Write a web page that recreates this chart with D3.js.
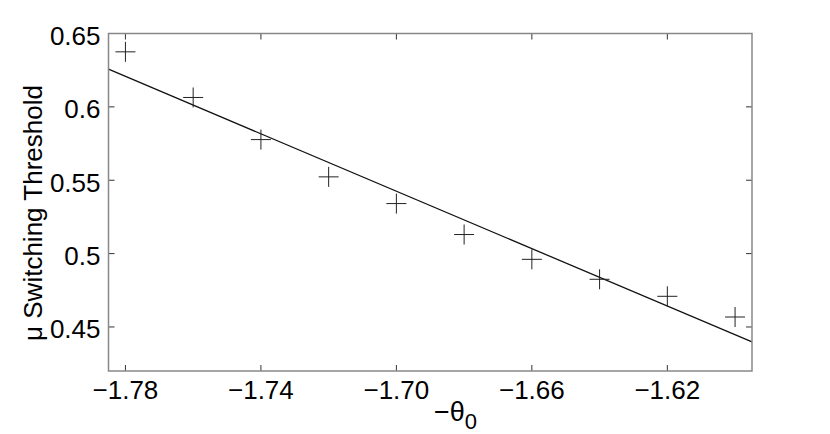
<!DOCTYPE html>
<html>
<head>
<meta charset="utf-8">
<script src="https://cdn.jsdelivr.net/npm/d3@7"></script>
<style>
  body { margin: 0; background: #fff; }
  text { font-family: 'Liberation Sans', Arial, sans-serif; fill: #000; }
</style>
</head>
<body>
<div id="chart"></div>
<script>
let width = 830,
  height = 434

// measured points
let thetaVals = [-1.78, -1.76, -1.74, -1.72, -1.70, -1.68, -1.66, -1.64, -1.62, -1.60]
let muVals = [0.6375, 0.6064, 0.5777, 0.5523, 0.5341, 0.5130, 0.4961, 0.4825, 0.4709, 0.4568]

// linear fit, drawn across the axis range
let fitX = [-1.785, -1.595]
let fitY = [0.6257, 0.4398]

let xTicks = [-1.78, -1.74, -1.70, -1.66, -1.62]
let yTicks = [0.45, 0.5, 0.55, 0.6, 0.65]

let margin = { left: 108.5, right: 78, top: 33.5, bottom: 63 }

let svg = d3.select('#chart').append('svg')
  .attr('width', width)
  .attr('height', height)

let x = d3.scaleLinear()
  .domain([-1.785, -1.595])
  .range([margin.left, width - margin.right])

let y = d3.scaleLinear()
  .domain([0.42, 0.65])
  .range([height - margin.bottom, margin.top])

let x0 = x.range()[0], x1 = x.range()[1]
let y0 = y.range()[0], y1 = y.range()[1]

let fmtX = d => d3.format('.2f')(d).replace('-', '\u2212')
let fmtY = d => String(d)

// inward ticks on all four sides
let tickLen = 6
let ticks = svg.append('g').attr('stroke', '#333').attr('stroke-width', 1)
xTicks.forEach(function (t) {
  ticks.append('line').attr('x1', x(t)).attr('x2', x(t)).attr('y1', y0).attr('y2', y0 - tickLen)
  ticks.append('line').attr('x1', x(t)).attr('x2', x(t)).attr('y1', y1).attr('y2', y1 + tickLen)
})
yTicks.forEach(function (t) {
  ticks.append('line').attr('x1', x0).attr('x2', x0 + tickLen).attr('y1', y(t)).attr('y2', y(t))
  ticks.append('line').attr('x1', x1).attr('x2', x1 - tickLen).attr('y1', y(t)).attr('y2', y(t))
})

svg.append('g').selectAll('text')
  .data(xTicks)
  .enter().append('text')
  .attr('x', d => x(d))
  .attr('y', y0 + 28)
  .attr('text-anchor', 'middle')
  .style('font-size', '26px')
  .text(fmtX)

svg.append('g').selectAll('text')
  .data(yTicks)
  .enter().append('text')
  .attr('x', x0 - 8)
  .attr('y', d => y(d) + 11.5)
  .attr('text-anchor', 'end')
  .style('font-size', '26px')
  .text(fmtY)

// fit line
let line = d3.line()
  .x(d => x(d[0]))
  .y(d => y(d[1]))

svg.append('path')
  .datum(d3.zip(fitX, fitY))
  .attr('d', line)
  .attr('fill', 'none')
  .attr('stroke', '#111')
  .attr('stroke-width', 1.3)

// plus markers
let half = 10
let marks = svg.append('g').attr('stroke', '#222').attr('stroke-width', 1)
d3.zip(thetaVals, muVals).forEach(function (d) {
  let cx = x(d[0]), cy = y(d[1])
  marks.append('line').attr('x1', cx - half).attr('x2', cx + half).attr('y1', cy).attr('y2', cy)
  marks.append('line').attr('x1', cx).attr('x2', cx).attr('y1', cy - half).attr('y2', cy + half)
})

// axes box
svg.append('rect')
  .attr('x', x0)
  .attr('y', y1)
  .attr('width', x1 - x0)
  .attr('height', y0 - y1)
  .attr('fill', 'none')
  .attr('stroke', '#888')
  .attr('stroke-width', 1.5)

// axis labels
svg.append('text')
  .attr('transform', 'translate(42,213) rotate(-90)')
  .attr('text-anchor', 'middle')
  .style('font-size', '26px')
  .text('\u03bc Switching Threshold')

let xl = svg.append('text')
  .attr('x', 434)
  .attr('y', 421)
  .style('font-size', '27px')
xl.append('tspan').text('\u2212\u03b8')
xl.append('tspan')
  .attr('dy', 8)
  .style('font-size', '22px')
  .text('0')
</script>
</body>
</html>
